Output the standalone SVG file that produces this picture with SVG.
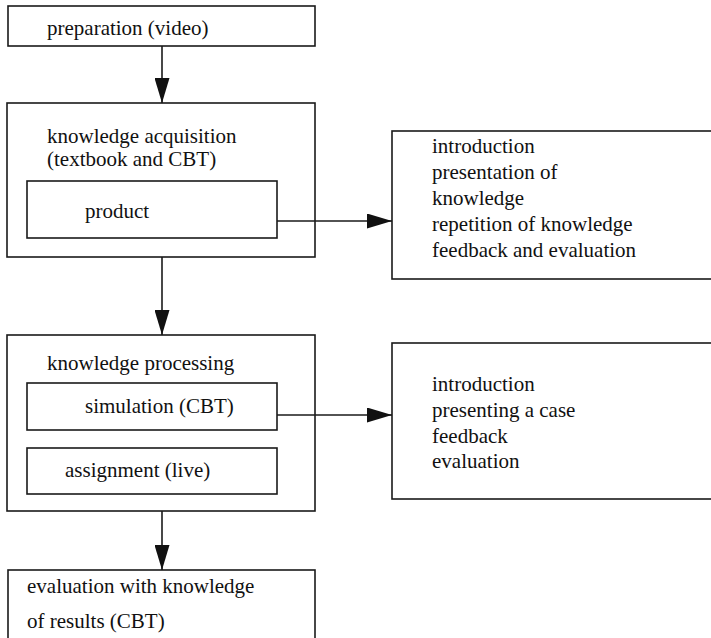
<svg xmlns="http://www.w3.org/2000/svg" width="711" height="638" viewBox="0 0 711 638">
  <style>
    .box { fill: #ffffff; stroke: #1a1a1a; stroke-width: 1.6; }
    .lbl { font-family: "Liberation Serif", "Times New Roman", "DejaVu Serif", serif; font-size: 21px; fill: #111111; }
    .conn { stroke: #1a1a1a; stroke-width: 1.6; fill: none; marker-end: url(#head); }
  </style>
  <defs>
    <marker id="head" markerUnits="userSpaceOnUse" markerWidth="26" markerHeight="15" refX="25" refY="7.5" orient="auto">
      <polygon points="0,0 25,7.5 0,15" fill="#111111"/>
    </marker>
  </defs>

  <rect width="711" height="638" fill="#ffffff"/>

  <g id="preparation">
    <rect class="box" x="8" y="6" width="307" height="40"/>
    <text class="lbl" x="47" y="35">preparation (video)</text>
  </g>

  <g id="acquisition">
    <rect class="box" x="7" y="103" width="308" height="154"/>
    <text class="lbl" x="47" y="143">knowledge acquisition</text>
    <text class="lbl" x="47" y="166">(textbook and CBT)</text>
  </g>

  <g id="product">
    <rect class="box" x="27" y="181" width="250" height="57"/>
    <text class="lbl" x="85" y="218">product</text>
  </g>

  <g id="product-steps">
    <rect class="box" x="392" y="131" width="330" height="148"/>
    <text class="lbl" x="432" y="153">introduction</text>
    <text class="lbl" x="432" y="179">presentation of</text>
    <text class="lbl" x="432" y="205">knowledge</text>
    <text class="lbl" x="432" y="231">repetition of knowledge</text>
    <text class="lbl" x="432" y="257">feedback and evaluation</text>
  </g>

  <g id="processing">
    <rect class="box" x="7" y="335" width="308" height="176"/>
    <text class="lbl" x="47" y="370">knowledge processing</text>
  </g>

  <g id="simulation">
    <rect class="box" x="27" y="383" width="250" height="47"/>
    <text class="lbl" x="85" y="413">simulation (CBT)</text>
  </g>

  <g id="assignment">
    <rect class="box" x="27" y="448" width="250" height="46"/>
    <text class="lbl" x="65" y="477">assignment (live)</text>
  </g>

  <g id="simulation-steps">
    <rect class="box" x="392" y="343" width="330" height="156"/>
    <text class="lbl" x="432" y="391">introduction</text>
    <text class="lbl" x="432" y="417">presenting a case</text>
    <text class="lbl" x="432" y="443">feedback</text>
    <text class="lbl" x="432" y="468">evaluation</text>
  </g>

  <g id="evaluation">
    <rect class="box" x="8" y="570" width="307" height="80"/>
    <text class="lbl" x="27" y="593">evaluation with knowledge</text>
    <text class="lbl" x="27" y="628">of results (CBT)</text>
  </g>

  <g id="connectors">
    <line class="conn" x1="162" y1="46" x2="162" y2="103"/>
    <line class="conn" x1="277" y1="221" x2="392" y2="221"/>
    <line class="conn" x1="162" y1="257" x2="162" y2="335"/>
    <line class="conn" x1="277" y1="415" x2="392" y2="415"/>
    <line class="conn" x1="162" y1="511" x2="162" y2="570"/>
  </g>
</svg>
